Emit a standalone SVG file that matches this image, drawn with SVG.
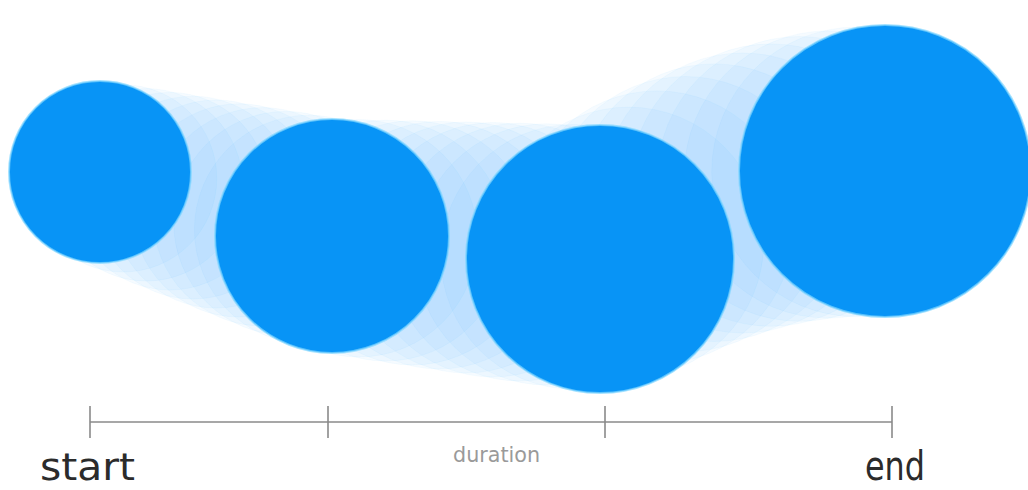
<svg xmlns="http://www.w3.org/2000/svg" width="1028" height="490" viewBox="0 0 1028 490">
<style>
.ghost{fill:#1a9cf7;fill-opacity:0.04;stroke:#1a9cf7;stroke-opacity:0.035;stroke-width:1}
.key{fill:#0894f6;stroke:#7fd6ff;stroke-width:2;stroke-opacity:0.7}
.axis{stroke:#8a8a8a;stroke-width:1.6;fill:none}
.hand{font-family:"DejaVu Sans Condensed","Liberation Sans",sans-serif;fill:#2b2b2b}
.dur{font-family:"DejaVu Sans Condensed","Liberation Sans",sans-serif;fill:#9a9a9a}
</style>
<rect width="1028" height="490" fill="#ffffff"/>
<g id="trail">
<circle class="ghost" cx="123.2" cy="178.4" r="93.6"/>
<circle class="ghost" cx="146.4" cy="184.8" r="96.2"/>
<circle class="ghost" cx="169.6" cy="191.2" r="98.8"/>
<circle class="ghost" cx="192.8" cy="197.6" r="101.4"/>
<circle class="ghost" cx="216" cy="204" r="104"/>
<circle class="ghost" cx="239.2" cy="210.4" r="106.6"/>
<circle class="ghost" cx="262.4" cy="216.8" r="109.2"/>
<circle class="ghost" cx="285.6" cy="223.2" r="111.8"/>
<circle class="ghost" cx="308.8" cy="229.6" r="114.4"/>
<circle class="ghost" cx="358.8" cy="238.3" r="118.7"/>
<circle class="ghost" cx="385.6" cy="240.6" r="120.4"/>
<circle class="ghost" cx="412.4" cy="242.9" r="122.1"/>
<circle class="ghost" cx="439.2" cy="245.2" r="123.8"/>
<circle class="ghost" cx="466" cy="247.5" r="125.5"/>
<circle class="ghost" cx="492.8" cy="249.8" r="127.2"/>
<circle class="ghost" cx="519.6" cy="252.1" r="128.9"/>
<circle class="ghost" cx="546.4" cy="254.4" r="130.6"/>
<circle class="ghost" cx="573.2" cy="256.7" r="132.3"/>
<circle class="ghost" cx="628.5" cy="242.3" r="135.2"/>
<circle class="ghost" cx="657" cy="227.3" r="136.4"/>
<circle class="ghost" cx="685.5" cy="214.1" r="137.6"/>
<circle class="ghost" cx="714" cy="202.7" r="138.8"/>
<circle class="ghost" cx="742.5" cy="193" r="140"/>
<circle class="ghost" cx="771" cy="185.1" r="141.2"/>
<circle class="ghost" cx="799.5" cy="178.9" r="142.4"/>
<circle class="ghost" cx="828" cy="174.5" r="143.6"/>
<circle class="ghost" cx="856.5" cy="171.9" r="144.8"/>
</g>
<g id="circle-1"><circle class="key" cx="100" cy="172" r="91"/></g>
<g id="circle-2"><circle class="key" cx="332" cy="236" r="117"/></g>
<g id="circle-3"><circle class="key" cx="600" cy="259" r="134"/></g>
<g id="circle-4"><circle class="key" cx="885" cy="171" r="146"/></g>
<g id="connectors">
<line class="axis" x1="90" y1="422" x2="892" y2="422"/>
<line class="axis" x1="90" y1="406" x2="90" y2="438"/>
<line class="axis" x1="328" y1="406" x2="328" y2="438"/>
<line class="axis" x1="605" y1="406" x2="605" y2="438"/>
<line class="axis" x1="892" y1="406" x2="892" y2="438"/>
</g>
<g id="labels">
<text class="hand" x="40" y="480" font-size="38" textLength="95" lengthAdjust="spacingAndGlyphs">start</text>
<text class="dur" x="453" y="462" font-size="22" textLength="87" lengthAdjust="spacingAndGlyphs">duration</text>
<text class="hand" x="865" y="480" font-size="40" textLength="60" lengthAdjust="spacingAndGlyphs">end</text>
</g>
</svg>
